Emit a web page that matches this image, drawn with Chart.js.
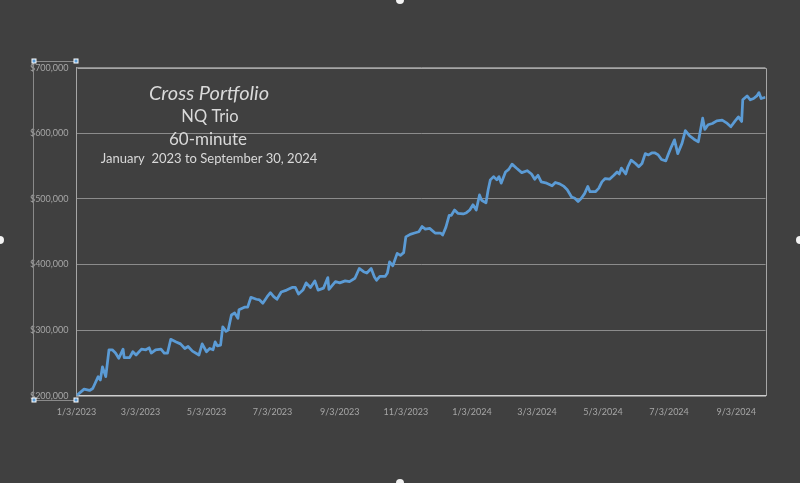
<!DOCTYPE html>
<html>
<head>
<meta charset="utf-8">
<script src="https://cdn.jsdelivr.net/npm/chart.js@4.4.1/dist/chart.umd.min.js"></script>
<style>
  html, body { margin: 0; padding: 0; background: #404040; }
  #wrap { position: relative; width: 800px; height: 483px; }
  canvas { display: block; }
</style>
</head>
<body>
<div id="wrap"><canvas id="c" width="800" height="483"></canvas></div>
<script>
// ---- Data ----
const startDate = "1/3/2023";
// days elapsed since 1/3/2023
const dayOffsets = [0,7,12,15,20,22,24,27,30,33,36,39,43,44,49,52,55,60,64,67,69,73,78,81,84,87,92,96,100,103,107,113,116,120,123,126,128,130,133,135,138,140,143,146,149,150,155,158,161,166,169,172,176,179,182,185,189,194,199,202,205,209,212,216,220,223,228,232,233,239,243,248,252,257,261,265,268,272,275,277,280,285,287,289,292,296,299,302,304,308,312,316,319,322,326,331,336,338,341,344,346,349,352,357,360,363,366,369,372,374,378,380,382,385,388,390,392,396,399,402,406,411,416,420,423,426,429,434,439,442,446,450,453,457,460,463,466,469,472,474,479,482,485,488,492,496,499,501,503,507,509,512,516,519,522,525,528,531,534,537,540,544,546,549,552,555,559,562,566,570,574,578,580,583,587,591,596,600,604,608,611,614,615,619,622,625,628,630,632,636];
// equity in thousands of dollars
const equityK = [200,210,208,211,229,224,244,229,270,270,265,257,271,258,258,267,262,271,270,273,265,270,271,265,265,286,282,279,272,275,268,262,279,267,272,270,282,276,277,305,298,300,323,326,318,331,335,335,350,347,346,341,351,357,351,347,358,361,365,365,355,361,372,365,375,361,364,380,362,374,372,375,374,379,394,389,387,394,381,376,382,382,387,404,398,417,414,418,442,446,448,450,458,454,455,448,448,445,457,475,475,483,478,477,479,483,491,483,506,498,494,514,529,534,529,534,524,541,545,553,547,540,543,538,530,536,526,524,520,525,523,519,514,503,501,496,501,508,519,511,511,516,526,531,530,536,541,538,547,538,549,559,554,549,554,569,567,570,570,567,560,558,567,579,590,569,585,604,596,591,587,623,606,613,615,619,620,616,610,619,625,618,651,657,651,653,657,662,653,655];
// x-axis tick positions (days since start) and labels
const tickDays = [0,59,120,181,243,304,365,425,486,547,609];
const tickLabels = ["1/3/2023","3/3/2023","5/3/2023","7/3/2023","9/3/2023","11/3/2023","1/3/2024","3/3/2024","5/3/2024","7/3/2024","9/3/2024"];
const lastDay = 636; // 9/30/2024
const yMin = 200000, yMax = 700000, yStep = 100000;
const titleLines = ["Cross Portfolio", "NQ Trio", "60-minute", "January  2023 to September 30, 2024"];

const FONT = "Lato, Carlito, Calibri, 'Open Sans', sans-serif";

const decorPlugin = {
  id: 'decor',
  beforeDraw(chart) {
    const ctx = chart.ctx;
    ctx.save();
    ctx.fillStyle = '#404040';
    ctx.fillRect(0, 0, chart.width, chart.height);
    ctx.restore();
  },
  afterDraw(chart) {
    const ctx = chart.ctx;
    const a = chart.chartArea;
    ctx.save();
    // plot-area border (top, right)
    ctx.strokeStyle = '#a6a6a6';
    ctx.lineWidth = 1;
    ctx.beginPath();
    ctx.moveTo(Math.round(a.left) + 0.5, Math.round(a.top) + 0.5);
    ctx.lineTo(Math.round(a.right) + 0.5, Math.round(a.top) + 0.5);
    ctx.lineTo(Math.round(a.right) + 0.5, Math.round(a.bottom));
    ctx.stroke();

    // axis selection frame
    ctx.strokeStyle = '#8a8a8a';
    ctx.beginPath();
    ctx.moveTo(76.5, 61.5); ctx.lineTo(33.5, 61.5); ctx.lineTo(33.5, 400.5); ctx.lineTo(76.5, 400.5);
    ctx.stroke();
    const handles = [[34,61],[76,61],[34,400],[76,400]];
    handles.forEach(([x,y]) => {
      ctx.fillStyle = '#ffffff';
      ctx.fillRect(x-2.5, y-2.5, 5, 5);
      ctx.fillStyle = '#5b9bd5';
      ctx.fillRect(x-1.5, y-1.5, 3, 3);
    });
    // chart selection handles at edges
    ctx.fillStyle = '#f2f2f2';
    [[400,0],[0,240],[800,240],[400,483]].forEach(([x,y]) => {
      ctx.beginPath(); ctx.arc(x, y, 4, 0, Math.PI*2); ctx.fill();
    });

    // title block
    ctx.fillStyle = '#d9d9d9';
    ctx.textAlign = 'center';
    ctx.textBaseline = 'alphabetic';
    ctx.font = 'italic 20px ' + FONT;
    ctx.fillText(titleLines[0], 209, 100);
    ctx.font = '16.5px ' + FONT;
    ctx.fillText(titleLines[1], 210, 122);
    ctx.font = '17px ' + FONT;
    ctx.fillText(titleLines[2], 208, 145);
    ctx.font = '13px ' + FONT;
    ctx.fillText(titleLines[3], 209, 163);
    ctx.restore();
  }
};

new Chart(document.getElementById('c'), {
  type: 'line',
  data: {
    datasets: [{
      data: dayOffsets.map((d, i) => ({ x: d, y: equityK[i] * 1000 })),
      borderColor: '#5b9bd5',
      borderWidth: 2.75,
      pointRadius: 0,
      tension: 0,
      fill: false,
      borderJoinStyle: 'round'
    }]
  },
  options: {
    responsive: false,
    animation: false,
    events: [],
    layout: { padding: { left: 0, right: 34.5, top: 67.7, bottom: 57.3 } },
    plugins: { legend: { display: false }, tooltip: { enabled: false }, title: { display: false } },
    scales: {
      x: {
        type: 'linear',
        min: 0,
        max: lastDay,
        afterFit(scale) { scale.height = 30; },
        afterBuildTicks(scale) { scale.ticks = tickDays.map(v => ({ value: v })); },
        grid: { display: false, drawTicks: false },
        border: { display: true, color: '#d0d0d0', width: 1.5 },
        ticks: {
          autoSkip: false, maxRotation: 0, minRotation: 0, padding: 11,
          color: '#a6a6a6',
          font: { family: FONT, size: 9 },
          callback(v) { const i = tickDays.indexOf(v); return i >= 0 ? tickLabels[i] : ''; }
        }
      },
      y: {
        min: yMin,
        max: yMax,
        afterFit(scale) { scale.width = 76.5; },
        grid: { color: '#8c8c8c', lineWidth: 1, drawTicks: false },
        border: { display: true, color: '#a6a6a6', width: 1 },
        ticks: {
          stepSize: yStep, padding: 8,
          color: '#a6a6a6',
          font: { family: FONT, size: 9 },
          callback(v) { return '$' + v.toLocaleString('en-US'); }
        }
      }
    }
  },
  plugins: [decorPlugin]
});
</script>
</body>
</html>
